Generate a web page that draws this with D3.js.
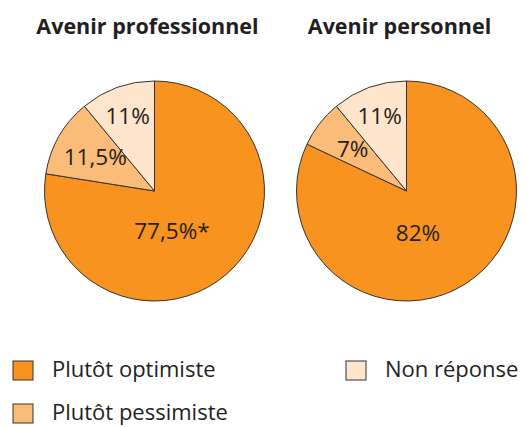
<!DOCTYPE html>
<html>
<head>
<meta charset="utf-8">
<script src="https://cdn.jsdelivr.net/npm/d3@7"></script>
<style>
  body { margin: 0; background: #fff; }
  text { font-family: "Open Sans", sans-serif; fill: #231f20; }
</style>
</head>
<body>
<script>
// Data
const categories = ["Plutôt optimiste", "Plutôt pessimiste", "Non réponse"];
const titles = ["Avenir professionnel", "Avenir personnel"];
const proValues = [77.5, 11.5, 11];
const persoValues = [82, 7, 11];
const proLabels = ["77,5%*", "11,5%", "11%"];
const persoLabels = ["82%", "7%", "11%"];

const colors = ["#f7931e", "#fbbc79", "#ffe5cb"];

const width = 527, height = 427;
const radius = 110;

const svg = d3.select("body").append("svg")
    .attr("width", width)
    .attr("height", height);

const color = d3.scaleOrdinal().domain(categories).range(colors);

// pies start at 12 o'clock and go clockwise, no sorting
const pie = d3.pie().sort(null).value(d => d.value);
const arc = d3.arc().innerRadius(0).outerRadius(radius);

// label radius (fraction of r) and angle nudge per slice, to sit like the original
const labelRadius = [0.4, 0.62, 0.72];
const labelNudge = [0.3, 0, 0];

const charts = [
  { title: titles[0], values: proValues, labels: proLabels, cx: 154.5, cy: 191 },
  { title: titles[1], values: persoValues, labels: persoLabels, cx: 406.5, cy: 191 }
];

charts.forEach(c => {
  const data = categories.map((k, i) => ({ key: k, value: c.values[i], label: c.labels[i] }));
  const g = svg.append("g").attr("transform", `translate(${c.cx},${c.cy})`);

  svg.append("text")
    .attr("x", c.cx - 7)
    .attr("y", 34)
    .attr("text-anchor", "middle")
    .style("font-weight", "bold")
    .style("font-size", "21.5px")
    .text(c.title);

  const arcs = pie(data);

  g.selectAll("path")
    .data(arcs)
    .enter().append("path")
    .attr("d", arc)
    .attr("fill", d => color(d.data.key))
    .attr("stroke", "#333")
    .attr("stroke-width", 1);

  g.selectAll(".lbl")
    .data(arcs)
    .enter().append("text")
    .attr("class", "lbl")
    .attr("transform", d => {
      const a = (d.startAngle + d.endAngle) / 2 + labelNudge[d.index];
      const r = radius * labelRadius[d.index];
      return `translate(${r * Math.sin(a)},${-r * Math.cos(a)})`;
    })
    .attr("text-anchor", "middle")
    .attr("dy", "0.35em")
    .style("font-size", "22.5px")
    .text(d => d.data.label);
});

// legend, two columns
const legendPos = [[13, 361], [13, 404], [346, 361]];
const legend = svg.selectAll(".legend")
    .data(categories)
    .enter().append("g")
    .attr("class", "legend")
    .attr("transform", (d, i) => `translate(${legendPos[i][0]},${legendPos[i][1]})`);

legend.append("rect")
    .attr("width", 20)
    .attr("height", 19)
    .attr("fill", d => color(d))
    .attr("stroke", "#333")
    .attr("stroke-width", 1);

legend.append("text")
    .attr("x", 39)
    .attr("y", 16)
    .style("font-size", "22px")
    .text(d => d);
</script>
</body>
</html>
